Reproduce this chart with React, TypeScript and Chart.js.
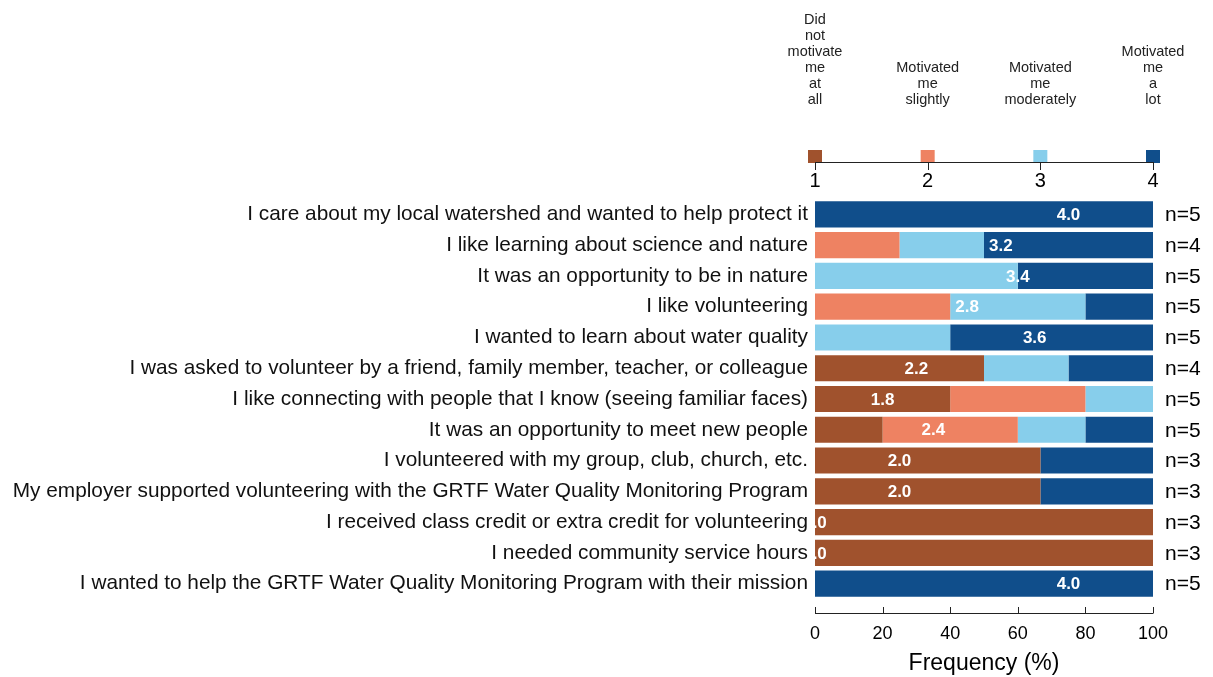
import React, { useEffect, useRef } from "react";
import { Chart, registerables } from "chart.js";

Chart.register(...registerables);

const categories = [
  "I care about my local watershed and wanted to help protect it",
  "I like learning about science and nature",
  "It was an opportunity to be in nature",
  "I like volunteering",
  "I wanted to learn about water quality",
  "I was asked to volunteer by a friend, family member, teacher, or colleague",
  "I like connecting with people that I know (seeing familiar faces)",
  "It was an opportunity to meet new people",
  "I volunteered with my group, club, church, etc.",
  "My employer supported volunteering with the GRTF Water Quality Monitoring Program",
  "I received class credit or extra credit for volunteering",
  "I needed community service hours",
  "I wanted to help the GRTF Water Quality Monitoring Program with their mission",
];

const notAtAll = [0, 0, 0, 0, 0, 50, 40, 20, 66.7, 66.7, 100, 100, 0];
const slightly = [0, 25, 0, 40, 0, 0, 40, 40, 0, 0, 0, 0, 0];
const moderately = [0, 25, 60, 40, 40, 25, 20, 20, 0, 0, 0, 0, 0];
const aLot = [100, 50, 40, 20, 60, 25, 0, 20, 33.3, 33.3, 0, 0, 100];

const means = [4.0, 3.2, 3.4, 2.8, 3.6, 2.2, 1.8, 2.4, 2.0, 2.0, 1.0, 1.0, 4.0];
const nCounts = [5, 4, 5, 5, 5, 4, 5, 5, 3, 3, 3, 3, 5];

const levelNames = ["Did not motivate me at all", "Motivated me slightly", "Motivated me moderately", "Motivated me a lot"];
const levelLabels = [
  ["Did", "not", "motivate", "me", "at", "all"],
  ["Motivated", "me", "slightly"],
  ["Motivated", "me", "moderately"],
  ["Motivated", "me", "a", "lot"],
];
const levelNumbers = ["1", "2", "3", "4"];
const levelColors = ["#A0522D", "#EE8262", "#87CEEB", "#104E8B"];

const FONT = "'Liberation Sans', Arial, Helvetica, sans-serif";

const overlayPlugin = {
  id: "overlay",
  afterDatasetsDraw(chart: any) {
    const { ctx, chartArea, scales } = chart;
    const x = scales.x;
    const y = scales.y;
    // mean labels (clipped to plot area)
    ctx.save();
    ctx.beginPath();
    ctx.rect(chartArea.left - 3, chartArea.top, chartArea.right - chartArea.left + 3, chartArea.bottom - chartArea.top);
    ctx.clip();
    ctx.fillStyle = "#ffffff";
    ctx.font = `bold 17px ${FONT}`;
    ctx.textAlign = "center";
    ctx.textBaseline = "middle";
    means.forEach((m, i) => {
      const px = x.getPixelForValue((m - 1) * 25);
      const py = y.getPixelForValue(i);
      ctx.fillText(m.toFixed(1), px, py + 1);
    });
    ctx.restore();
  },
  afterDraw(chart: any) {
    const { ctx, chartArea, scales } = chart;
    const x = scales.x;
    const y = scales.y;
    ctx.save();
    // n labels
    ctx.fillStyle = "#000";
    ctx.font = `21px ${FONT}`;
    ctx.textAlign = "left";
    ctx.textBaseline = "middle";
    nCounts.forEach((n, i) => {
      ctx.fillText(`n=${n}`, chartArea.right + 12, y.getPixelForValue(i) + 1);
    });

    // bottom axis line with upward ticks
    const axisY = chartArea.bottom + 14;
    ctx.strokeStyle = "#222";
    ctx.lineWidth = 1;
    ctx.beginPath();
    ctx.moveTo(x.getPixelForValue(0), axisY + 0.5);
    ctx.lineTo(x.getPixelForValue(100), axisY + 0.5);
    x.ticks.forEach((t: any) => {
      const px = Math.round(x.getPixelForValue(t.value)) + 0.5;
      ctx.moveTo(px, axisY + 0.5);
      ctx.lineTo(px, axisY - 6);
    });
    ctx.stroke();

    // top legend scale
    const legY = 162;
    levelColors.forEach((c, k) => {
      const px = x.getPixelForValue((k / 3) * 100);
      ctx.fillStyle = c;
      ctx.fillRect(px - 7, legY - 12, 14, 13);
    });
    ctx.strokeStyle = "#222";
    ctx.beginPath();
    ctx.moveTo(x.getPixelForValue(0), legY + 0.5);
    ctx.lineTo(x.getPixelForValue(100), legY + 0.5);
    levelColors.forEach((c, k) => {
      const px = Math.round(x.getPixelForValue((k / 3) * 100)) + 0.5;
      ctx.moveTo(px, legY);
      ctx.lineTo(px, legY + 8);
    });
    ctx.stroke();
    ctx.fillStyle = "#000";
    ctx.font = `20px ${FONT}`;
    ctx.textAlign = "center";
    ctx.textBaseline = "middle";
    levelNumbers.forEach((s, k) => {
      ctx.fillText(s, x.getPixelForValue((k / 3) * 100), legY + 19);
    });
    ctx.fillStyle = "#222";
    ctx.font = `14.5px ${FONT}`;
    levelLabels.forEach((lines, k) => {
      const px = x.getPixelForValue((k / 3) * 100);
      lines.forEach((ln, j) => {
        const py = 100 - (lines.length - 1 - j) * 16;
        ctx.fillText(ln, px, py);
      });
    });
    ctx.restore();
  },
};

export default function App() {
  const ref = useRef<HTMLCanvasElement | null>(null);
  useEffect(() => {
    if (!ref.current) return;
    const series = [notAtAll, slightly, moderately, aLot];
    const chart = new Chart(ref.current, {
      type: "bar",
      data: {
        labels: categories,
        datasets: series.map((d, k) => ({
          label: levelNames[k],
          data: d,
          backgroundColor: levelColors[k],
          borderWidth: 0,
          barPercentage: 0.85,
          categoryPercentage: 1.0,
        })),
      },
      options: {
        indexAxis: "y",
        responsive: false,
        animation: false,
        layout: { padding: { top: 199, right: 60, left: 0, bottom: 0 } },
        plugins: {
          legend: { display: false },
          tooltip: { enabled: false },
          title: { display: false },
        },
        scales: {
          x: {
            stacked: true,
            min: 0,
            max: 100,
            grid: { display: false, drawTicks: false },
            border: { display: false },
            ticks: {
              stepSize: 20,
              color: "#000",
              font: { family: FONT, size: 18 },
              padding: 24,
              maxRotation: 0,
            },
            title: {
              display: true,
              text: "Frequency (%)",
              color: "#000",
              font: { family: FONT, size: 23 },
              padding: { top: 0, bottom: 0 },
            },
            afterFit: (scale: any) => {
              scale.height = 78;
            },
          },
          y: {
            stacked: true,
            grid: { display: false, drawTicks: false },
            border: { display: false },
            ticks: {
              color: "#111",
              font: { family: FONT, size: 20.8 },
              padding: 7,
              autoSkip: false,
            },
            afterFit: (scale: any) => {
              scale.width = 815;
            },
          },
        },
      },
      plugins: [overlayPlugin],
    });
    return () => chart.destroy();
  }, []);
  return (
    <div style={{ position: "fixed", left: 0, top: 0, width: 1213, height: 677, background: "#fff" }}>
      <canvas ref={ref} width={1213} height={677} />
    </div>
  );
}
